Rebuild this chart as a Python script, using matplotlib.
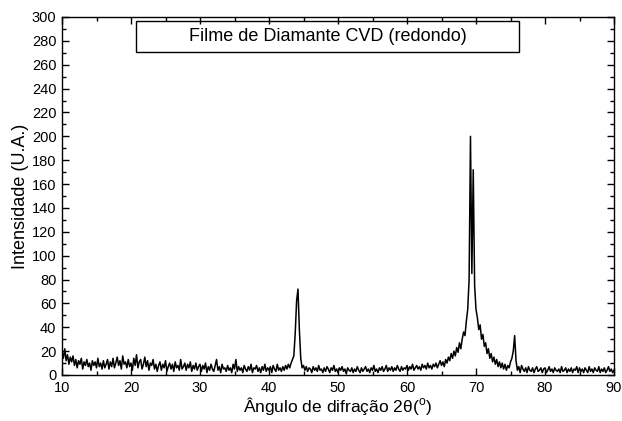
import numpy as np
import matplotlib
matplotlib.use("Agg")
import matplotlib.pyplot as plt
from matplotlib.patches import Rectangle
from matplotlib.ticker import MultipleLocator

plt.rcParams['font.family'] = ['Liberation Sans', 'DejaVu Sans']

# 2-theta grid: 10 to 90 degrees, 0.2 degree step
two_theta_start = 10.0
two_theta_step = 0.2

# Intensities (one row = 2 degrees)
intensity = [
    20, 14, 22, 12, 17, 9, 15, 11, 16, 8,      # 10-12
    13, 6, 12, 9, 14, 5, 11, 8, 13, 7,         # 12-14
    10, 4, 12, 8, 11, 6, 14, 7, 10, 5,         # 14-16
    12, 6, 9, 13, 5, 11, 7, 14, 6, 10,         # 16-18
    15, 8, 12, 5, 16, 9, 11, 6, 13, 7,         # 18-20
    10, 4, 14, 8, 17, 6, 11, 13, 5, 9,         # 20-22
    15, 7, 12, 4, 10, 8, 13, 5, 9, 3,          # 22-24
    8, 11, 4, 9, 6, 12, 3, 7, 10, 5,           # 24-26
    9, 3, 11, 6, 8, 4, 13, 5, 7, 10,           # 26-28
    4, 9, 6, 11, 3, 8, 5, 10, 4, 7,            # 28-30
    9, 3, 8, 5, 10, 2, 7, 4, 9, 5,             # 30-32
    3, 8, 13, 4, 7, 2, 9, 5, 6, 3,             # 32-34
    8, 4, 6, 2, 9, 5, 13, 3, 7, 4,             # 34-36
    6, 2, 8, 5, 3, 7, 4, 9, 2, 6,              # 36-38
    5, 8, 3, 6, 2, 7, 4, 9, 3, 6,              # 38-40
    4, 7, 2, 8, 5, 3, 9, 4, 6, 3,              # 40-42
    7, 4, 8, 5, 9, 6, 10, 13, 16, 35,          # 42-44
    62, 72, 38, 14, 6, 8, 4, 7, 3, 6,          # 44-46
    5, 2, 7, 4, 6, 3, 8, 4, 5, 2,              # 46-48
    6, 3, 7, 5, 2, 6, 4, 8, 3, 5,              # 48-50
    2, 6, 4, 7, 3, 5, 1, 6, 4, 3,              # 50-52
    6, 2, 5, 3, 7, 4, 2, 6, 3, 5,              # 52-54
    7, 3, 5, 2, 6, 4, 8, 3, 5, 2,              # 54-56
    6, 4, 7, 3, 5, 8, 3, 6, 4, 7,              # 56-58
    3, 6, 4, 8, 5, 3, 7, 4, 6, 5,              # 58-60
    8, 4, 7, 5, 9, 4, 6, 8, 5, 7,              # 60-62
    4, 9, 6, 8, 5, 10, 6, 8, 5, 9,             # 62-64
    7, 10, 6, 9, 12, 8, 11, 7, 13, 10,         # 64-66
    15, 12, 18, 14, 20, 16, 23, 19, 27, 22,    # 66-68
    30, 36, 33, 45, 55, 80, 200, 85, 172, 75,  # 68-70
    55, 48, 38, 42, 30, 34, 24, 27, 18, 22,    # 70-72
    14, 18, 11, 15, 9, 13, 7, 11, 6, 10,       # 72-74
    5, 9, 4, 8, 6, 11, 14, 20, 33, 12,         # 74-76
    4, 7, 2, 8, 5, 3, 6, 2, 7, 4,              # 76-78
    3, 6, 2, 5, 7, 3, 4, 6, 2, 5,              # 78-80
    6, 2, 4, 7, 3, 5, 2, 6, 4, 3,              # 80-82
    5, 2, 7, 3, 4, 6, 2, 5, 3, 6,              # 82-84
    2, 5, 4, 7, 2, 6, 3, 5, 2, 6,              # 84-86
    4, 2, 7, 3, 5, 2, 6, 4, 3, 7,              # 86-88
    2, 5, 3, 6, 2, 4, 7, 3, 5, 2, 4,           # 88-90
]

two_theta = two_theta_start + two_theta_step * np.arange(len(intensity))

title_text = "Filme de Diamante CVD (redondo)"
x_label = "Ângulo de difração 2θ($^\\mathregular{o}$)"
y_label = "Intensidade (U.A.)"

fig = plt.figure(figsize=(6.22, 4.21), dpi=100)
ax = fig.add_axes([62/622, 1 - 375/421, 552/622, 358/421])

ax.plot(two_theta, intensity, color='black', linewidth=1.1)

ax.set_xlim(10, 90)
ax.set_ylim(0, 300)
ax.xaxis.set_major_locator(MultipleLocator(10))
ax.xaxis.set_minor_locator(MultipleLocator(5))
ax.yaxis.set_major_locator(MultipleLocator(20))
ax.yaxis.set_minor_locator(MultipleLocator(10))
ax.tick_params(which='both', direction='in', top=True, right=True,
               labelsize=10.5, width=1.0)
ax.tick_params(which='major', length=5, pad=4)
ax.tick_params(which='minor', length=3)
for s in ax.spines.values():
    s.set_linewidth(1.0)

ax.set_xlabel(x_label, fontsize=12.5, labelpad=0)
ax.set_ylabel(y_label, fontsize=13, labelpad=2)

x0 = (136 - 62) / 552
x1 = (519 - 62) / 552
y0 = (375 - 52) / 358
y1 = (375 - 21) / 358
ax.add_patch(Rectangle((x0, y0), x1 - x0, y1 - y0, transform=ax.transAxes,
                       fill=False, edgecolor='black', linewidth=1.0))
ax.text((x0 + x1) / 2, (y0 + y1) / 2, title_text, transform=ax.transAxes,
        ha='center', va='center', fontsize=13)

fig.savefig("out.png", dpi=100)
